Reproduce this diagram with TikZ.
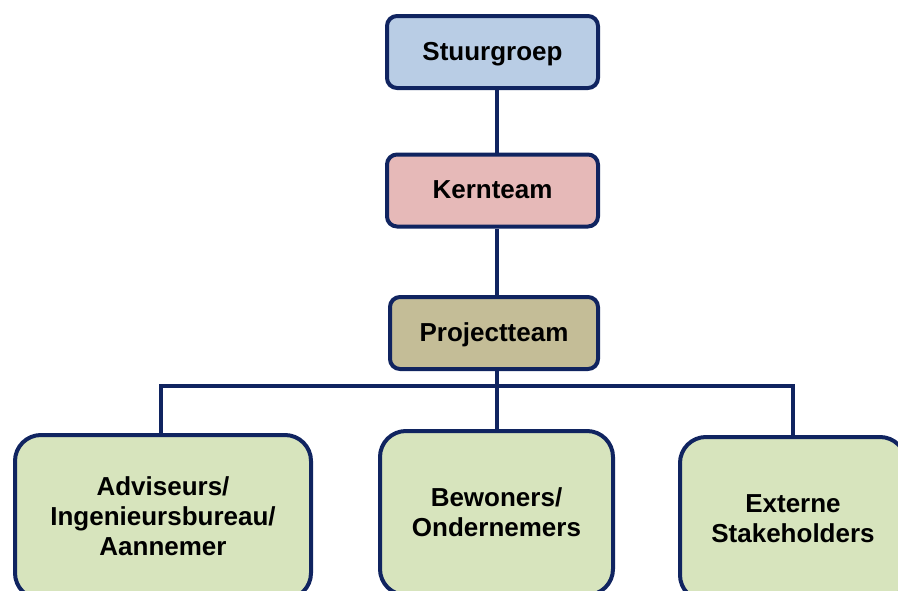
\documentclass[tikz,border=0pt]{standalone}
\usepackage{fontspec}
\setmainfont{Liberation Sans}
\usepackage{tikz}
\usepackage{xcolor}

\definecolor{randblauw}{RGB}{16,36,96}
\definecolor{stuurkleur}{HTML}{B9CDE5}
\definecolor{kernkleur}{HTML}{E6B9B8}
\definecolor{projectkleur}{HTML}{C4BD97}
\definecolor{groepkleur}{HTML}{D7E4BD}

\tikzset{
    teambox/.style={draw=randblauw, line width=4pt, rounded corners=10pt,
        minimum height=72pt, align=center, text depth=1pt,
        font=\fontsize{26}{30}\selectfont\bfseries},
    groepbox/.style={teambox, fill=groepkleur, rounded corners=26pt,
        minimum height=164pt},
    verbinding/.style={draw=randblauw, line width=3.5pt}
}

\begin{document}
\begin{tikzpicture}[x=1pt, y=-1pt]
            \useasboundingbox (0,0) rectangle (898,590);
            \clip (0,0) rectangle (898,590);
            % lijnen
            \coordinate (midden) at (497,386);
            \coordinate (links) at (161,386);
            \coordinate (rechts) at (793,386);
            % teams
            \node[teambox, fill=stuurkleur, minimum width=211pt] (stuurgroep) at (492.5,52) {Stuurgroep};
            \node[teambox, fill=kernkleur, minimum width=211pt] (kernteam) at (492.5,190.5) {Kernteam};
            \node[teambox, fill=projectkleur, minimum width=208pt] (projectteam) at (494,333) {Projectteam};
            % groepen
            \node[groepbox, minimum width=296pt] (adviseurs) at (163,517) {Adviseurs/\\Ingenieursbureau/\\Aannemer};
            \node[groepbox, minimum width=233pt] (bewoners) at (496.5,513) {Bewoners/\\Ondernemers};
            \node[groepbox, minimum width=226pt] (extern) at (793,519) {Externe\\Stakeholders};
            \draw[verbinding] (stuurgroep.south -| midden) -- (kernteam.north -| midden);
            \draw[verbinding] (kernteam.south -| midden) -- (projectteam.north -| midden);
            \draw[verbinding] (projectteam.south -| midden) -- (bewoners.north -| midden);
            \draw[verbinding] (adviseurs.north -| links) -- (links) -- (rechts) -- (extern.north -| rechts);
        \end{tikzpicture}
\end{document}
